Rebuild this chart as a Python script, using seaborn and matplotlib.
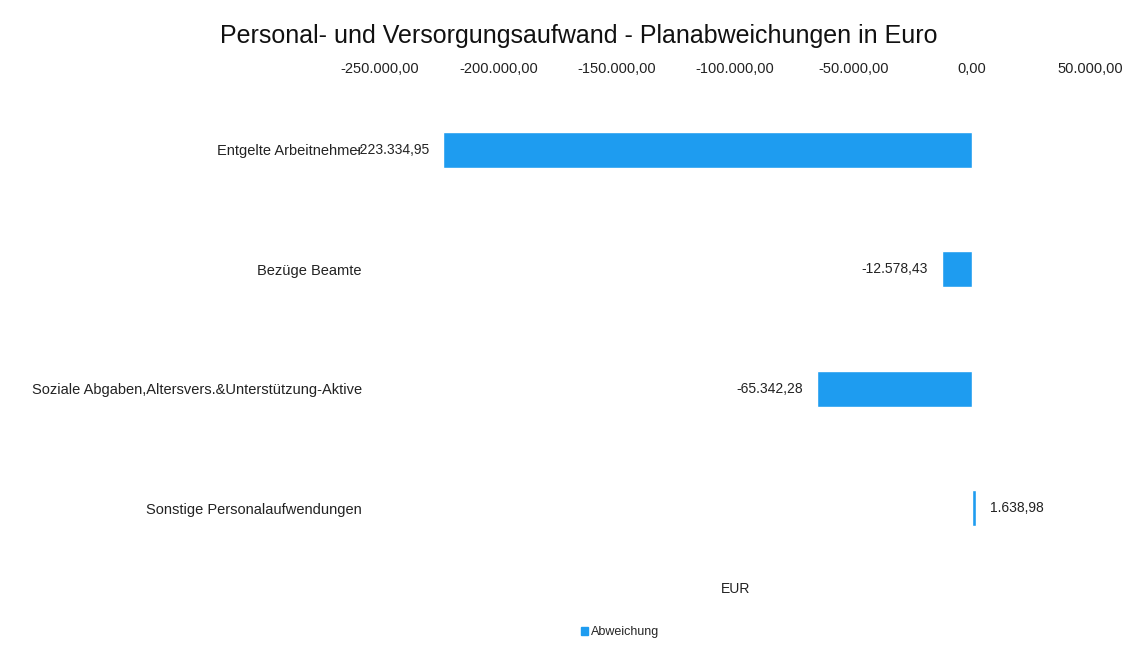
import matplotlib
matplotlib.use("Agg")
import matplotlib.pyplot as plt
import seaborn as sns
import pandas as pd
from matplotlib.patches import Patch
from matplotlib.ticker import FuncFormatter

# chart data
categories = [
    "Entgelte Arbeitnehmer",
    "Bezüge Beamte",
    "Soziale Abgaben,Altersvers.&Unterstützung-Aktive",
    "Sonstige Personalaufwendungen",
]
abweichung = [-223334.95, -12578.43, -65342.28, 1638.98]
x_ticks = [-250000, -200000, -150000, -100000, -50000, 0, 50000]

BAR_COLOR = "#1E9CF0"


def de_format(v):
    s = f"{v:,.2f}"
    return s.replace(",", "X").replace(".", ",").replace("X", ".")


df = pd.DataFrame({"Kategorie": categories, "Abweichung": abweichung})

sns.set_theme(style="white")
plt.rcParams["font.family"] = ["Liberation Sans", "DejaVu Sans"]

fig = plt.figure(figsize=(11.31, 6.47), dpi=100)
ax = fig.add_axes([0.336, 0.122, 0.628, 0.739])

sns.barplot(data=df, x="Abweichung", y="Kategorie", orient="h",
            color=BAR_COLOR, saturation=1, width=0.3, ax=ax)

ax.set_xlim(-250000, 50000)
ax.set_ylim(3.5, -0.5)
ax.set_xticks(x_ticks)
ax.xaxis.set_major_formatter(FuncFormatter(lambda v, p: de_format(v)))
ax.xaxis.tick_top()
ax.tick_params(axis="x", length=0, labelsize=10.5, pad=10, colors="#222222")
ax.tick_params(axis="y", length=0, labelsize=10.5, pad=13, colors="#222222")
ax.set_ylabel("")
ax.set_xlabel("EUR", fontsize=10, color="#222222", labelpad=10)
ax.xaxis.set_label_position("bottom")
for s in ax.spines.values():
    s.set_visible(False)

ax.bar_label(ax.containers[0], labels=[de_format(v) for v in abweichung],
             padding=10, fontsize=10, color="#222222")

fig.suptitle("Personal- und Versorgungsaufwand - Planabweichungen in Euro",
             fontsize=18, y=0.963, x=0.512, color="#111111")

fig.legend(handles=[Patch(color=BAR_COLOR, label="Abweichung")],
           loc="center", bbox_to_anchor=(0.548, 0.023), frameon=False,
           fontsize=9, handlelength=0.6, handleheight=0.6, handletextpad=0.2)

fig.savefig("out.png", dpi=100, facecolor="white")
